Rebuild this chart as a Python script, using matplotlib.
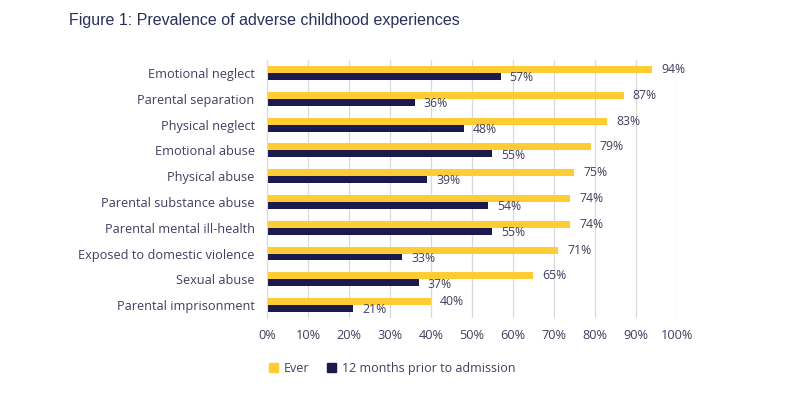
import matplotlib
matplotlib.use("Agg")
import matplotlib.pyplot as plt
import numpy as np
from matplotlib.patches import Patch

categories = ["Emotional neglect", "Parental separation", "Physical neglect", "Emotional abuse",
              "Physical abuse", "Parental substance abuse", "Parental mental ill-health",
              "Exposed to domestic violence", "Sexual abuse", "Parental imprisonment"]
ever = [94, 87, 83, 79, 75, 74, 74, 71, 65, 40]
prior12 = [57, 36, 48, 55, 39, 54, 55, 33, 37, 21]
series_names = ["Ever", "12 months prior to admission"]
xticks = [0, 10, 20, 30, 40, 50, 60, 70, 80, 90, 100]

yellow = "#FFCC33"
navy = "#1A1A4E"
txt = "#404060"
font = "Open Sans"

fig = plt.figure(figsize=(8, 3.98), dpi=100)
ax = fig.add_axes([0.334, 0.201, 0.512, 0.648])

y = np.arange(len(categories))
h = 0.27
ax.barh(y - h / 2, ever, height=h, color=yellow, zorder=3)
ax.barh(y + h / 2, prior12, height=h, color=navy, zorder=3)

for yi, v in zip(y, ever):
    ax.text(v + 2.2, yi - h / 2, f"{v}%", va="center", ha="left", fontsize=8.8,
            color=txt, family=font)
for yi, v in zip(y, prior12):
    ax.text(v + 2.2, yi + h / 2 + 0.05, f"{v}%", va="center", ha="left", fontsize=8.8,
            color=txt, family=font)

ax.set_ylim(len(categories) - 0.5, -0.5)
ax.set_xlim(0, 100)
ax.set_yticks(y)
ax.set_yticklabels(categories, fontsize=9.2, color=txt, family=font)
ax.set_xticks(xticks)
ax.set_xticklabels([f"{t}%" for t in xticks], fontsize=9.2, color=txt, family=font)
ax.tick_params(axis="both", length=0)
ax.tick_params(axis="x", pad=8)
ax.tick_params(axis="y", pad=9)
ax.grid(axis="x", color="#D9D9D9", linewidth=0.9, zorder=0)
for s in ["top", "right", "bottom"]:
    ax.spines[s].set_visible(False)
ax.spines["left"].set_color("#D9D9D9")
ax.spines["left"].set_zorder(4)

handles = [Patch(color=yellow), Patch(color=navy)]
fig.legend(handles, series_names, loc="center left", bbox_to_anchor=(0.322, 0.075), ncol=2,
           frameon=False, handlelength=0.7, handleheight=0.7, handletextpad=0.5,
           columnspacing=1.4, prop={"family": font, "size": 9}, labelcolor=txt)

fig.text(0.086, 0.948, "Figure 1: Prevalence of adverse childhood experiences", fontsize=11.5,
         color="#2A2F5A", family="Liberation Sans", va="center", ha="left")

fig.savefig("out.png", dpi=100, facecolor="white")
